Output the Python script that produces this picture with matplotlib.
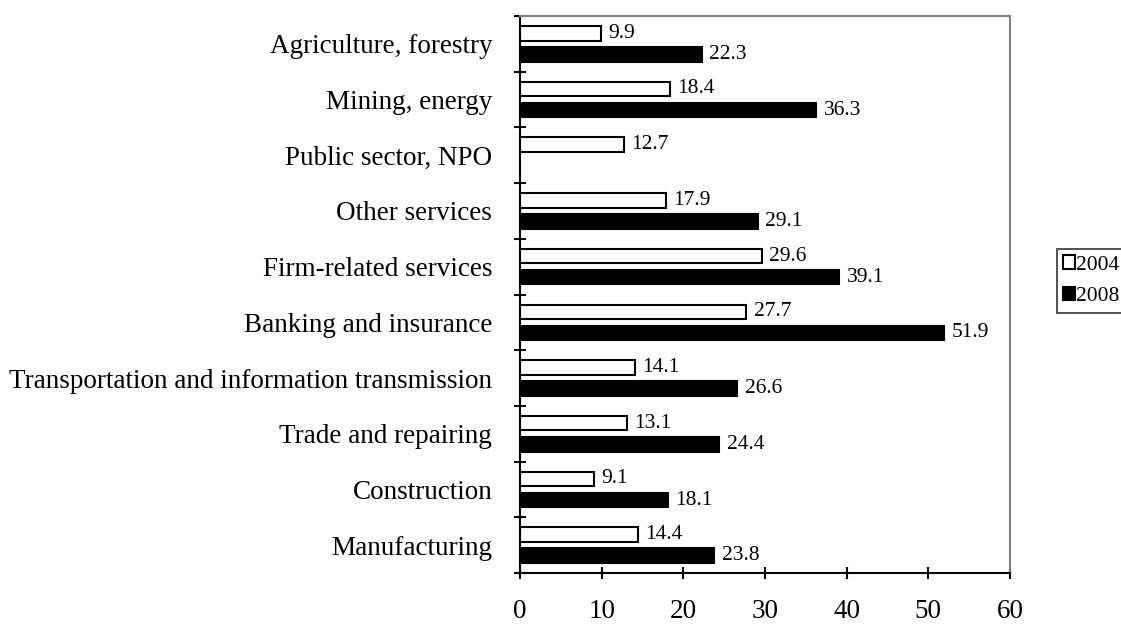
import numpy as np
import matplotlib.pyplot as plt

# categories from bottom to top
sectors = ['Manufacturing', 'Construction', 'Trade and repairing',
           'Transportation and information transmission',
           'Banking and insurance', 'Firm-related services', 'Other services',
           'Public sector, NPO', 'Mining, energy', 'Agriculture, forestry']
val_2004 = [14.4, 9.1, 13.1, 14.1, 27.7, 29.6, 17.9, 12.7, 18.4, 9.9]
val_2008 = [23.8, 18.1, 24.4, 26.6, 51.9, 39.1, 29.1, np.nan, 36.3, 22.3]
years = ['2004', '2008']

plt.rcParams['font.family'] = ['Liberation Serif', 'DejaVu Serif']

fig = plt.figure(figsize=(11.21, 6.24), dpi=100)
ax = fig.add_axes([520 / 1121, 51 / 624, 490 / 1121, 557 / 624])

y = np.arange(len(sectors))
h = 0.26
off = 0.19
b1 = ax.barh(y + off, val_2004, height=h, color='white', edgecolor='black',
             linewidth=1.5, label=years[0])
b2 = ax.barh(y - off, val_2008, height=h, color='black', edgecolor='black',
             linewidth=1.5, label=years[1])

for yy, v in zip(y + off, val_2004):
    ax.text(v + 0.9, yy, f'{v:.1f}', va='center', ha='left', fontsize=15.5)
for yy, v in zip(y - off, val_2008):
    if not np.isnan(v):
        ax.text(v + 0.9, yy, f'{v:.1f}', va='center', ha='left', fontsize=15.5)

ax.set_xlim(0, 60)
ax.set_ylim(-0.5, len(sectors) - 0.5)
ax.set_xticks(range(0, 61, 10))
ax.set_yticks(y)
ax.set_yticklabels(sectors)
ax.set_yticks(np.arange(-0.5, len(sectors)), minor=True)
ax.tick_params(axis='y', which='major', length=0, pad=20, labelsize=19.5)
ax.tick_params(axis='y', which='minor', length=8, width=1.5, direction='inout')
ax.tick_params(axis='x', length=9, width=1.5, direction='inout', pad=14, labelsize=19.5)

for s in ['left', 'bottom']:
    ax.spines[s].set_linewidth(1.5)
    ax.spines[s].set_color('black')
for s in ['top', 'right']:
    ax.spines[s].set_linewidth(1.5)
    ax.spines[s].set_color('#808080')

leg = fig.legend(handles=[b1, b2], loc='upper left', bbox_to_anchor=(1057 / 1121, 1 - 249 / 624),
                 fontsize=15.5, frameon=True, fancybox=False, edgecolor='black',
                 handlelength=0.55, handleheight=0.6, handletextpad=0.05,
                 borderpad=0.3, labelspacing=0.55, borderaxespad=0)
leg.get_frame().set_linewidth(1.2)

fig.savefig('out.png', dpi=100)
